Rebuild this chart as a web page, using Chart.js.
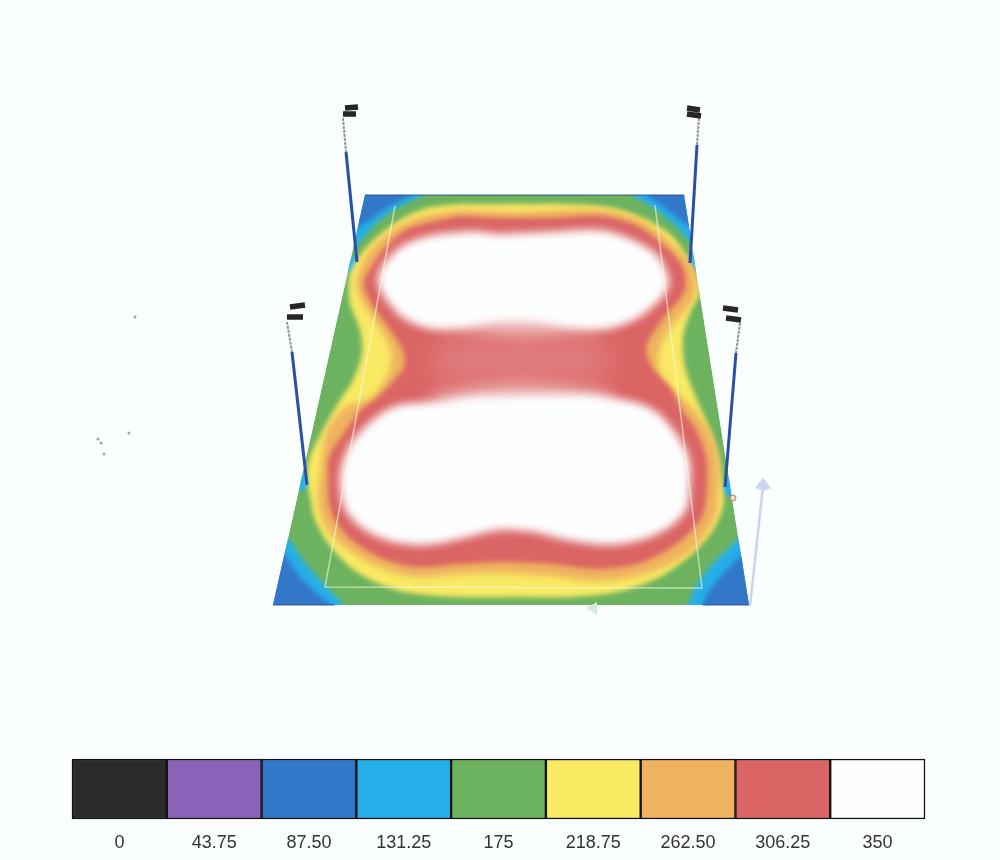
<!DOCTYPE html>
<html>
<head>
<meta charset="utf-8">
<title>Illuminance plot</title>
<script src="https://cdn.jsdelivr.net/npm/chart.js@4/dist/chart.umd.js"></script>
<style>
    html, body { margin: 0; padding: 0; background: #fafeff; }
    #wrap { position: relative; width: 1000px; height: 860px; overflow: hidden; }
    canvas { position: absolute; left: 0; }
    #plot { top: 0; }
    #scale { top: 750px; }
</style>
</head>
<body>
<div id="wrap">
    <canvas id="plot" width="1000" height="750"></canvas>
    <canvas id="scale" width="1000" height="110"></canvas>
</div>
<script>
// colour scale
const levelLabels = ['0', '43.75', '87.50', '131.25', '175', '218.75', '262.50', '306.25', '350'];
const levelColors = ['#2b2b2b', '#8a63b8', '#3377c8', '#25afea', '#6db35f', '#f9e963', '#efb25f', '#db6464', '#fdfefe'];
const levelHeights = [1, 1, 1, 1, 1, 1, 1, 1, 1];

// isolux outlines in plot units
const plate = [[365, 195], [684, 195], [749, 605], [273, 605]];
const band175 = plate;
const cornerCyanTL = [[340, 180], [428, 180], [424, 195], [398, 207], [377, 222], [358, 244], [340, 254]];
const cornerBlueTL = [[340, 180], [416, 180], [412, 195], [388, 207], [364, 224], [340, 238]];
const cornerCyanTR = [[625, 180], [632, 195], [654, 208], [675, 225], [690, 242], [710, 252], [710, 180]];
const cornerBlueTR = [[640, 180], [646, 195], [664, 207], [684, 223], [710, 238], [710, 180]];
const cornerCyanBL = [[262, 525], [290, 540], [305, 563], [323, 583], [343, 604], [345, 620], [255, 620]];
const cornerBlueBL = [[262, 545], [285, 555], [298, 575], [316, 593], [330, 604], [332, 620], [255, 620]];
const cornerCyanBR = [[760, 525], [737, 540], [713, 563], [696, 585], [688, 604], [686, 620], [770, 620]];
const cornerBlueBR = [[760, 542], [742, 555], [720, 577], [708, 592], [703, 604], [701, 620], [770, 620]];
const baseCyanA = [[344, 268], [354, 256], [359, 268], [349, 274]];
const baseCyanB = [[299, 486], [303, 470], [310, 484], [301, 492]];
const baseCyanC = [[722, 490], [729, 476], [736, 490], [730, 498]];
const baseCyanD = [[688, 266], [692, 252], [700, 264], [696, 272]];

const band218 = [
    [520, 204], [567, 204], [613, 208], [647, 220], [673, 237], [690, 263], [700, 290], [690, 313],
    [683, 337], [685, 367], [697, 400], [707, 423], [717, 450], [723, 487], [723, 507], [713, 530],
    [693, 553], [660, 577], [617, 592], [567, 597], [520, 597], [460, 597], [410, 593], [377, 583],
    [350, 567], [328, 543], [315, 520], [310, 497], [307, 477], [310, 457], [323, 430], [340, 400],
    [353, 380], [362, 353], [360, 330], [350, 303], [350, 273], [360, 255], [377, 237], [400, 220], [427, 208], [460, 204],
];
const band262 = [
    [520, 212], [560, 210], [605, 210], [642, 221], [670, 242], [692, 265], [696, 285], [692, 302],
    [675, 322], [661, 345], [658, 367], [668, 385], [684, 400], [696, 412], [709, 430], [718, 457],
    [719, 487], [715, 517], [693, 549], [652, 572], [600, 581], [550, 576], [500, 573], [460, 574],
    [417, 577], [378, 567], [347, 549], [326, 528], [318, 500], [320, 477], [326, 433], [344, 408],
    [370, 398], [385, 380], [392, 360], [388, 343], [376, 323], [363, 303], [356, 283], [363, 262],
    [377, 243], [401, 225], [427, 215], [460, 210],
];
const band306 = [
    [500, 218], [550, 218], [600, 216], [633, 224], [659, 241], [681, 264], [686, 283], [681, 297],
    [662, 320], [646, 347], [652, 367], [672, 390], [682, 410], [696, 430], [706, 457], [707, 487],
    [702, 517], [679, 542], [643, 562], [600, 569], [550, 564], [500, 562], [460, 564], [417, 567],
    [384, 559], [354, 542], [336, 522], [329, 503], [328, 477], [329, 457], [344, 433], [361, 410],
    [378, 397], [394, 380], [404, 367], [404, 353], [394, 335], [378, 313], [368, 297], [364, 283],
    [371, 267], [384, 249], [404, 231], [427, 223], [460, 216],
];
const holeTop = [
    [500, 234], [543, 232], [600, 230], [631, 239], [657, 255], [669, 280], [664, 295], [638, 318],
    [610, 328], [573, 328], [533, 322], [500, 322], [460, 328], [427, 328], [402, 317], [383, 295],
    [378, 280], [383, 265], [402, 246], [433, 235], [473, 231],
];
const holeBottom = [
    [520, 396], [560, 395], [600, 396], [638, 403], [658, 413], [677, 435], [689, 458], [690, 483],
    [687, 508], [670, 527], [641, 540], [607, 545], [567, 540], [533, 532], [500, 530], [460, 539],
    [427, 545], [393, 542], [365, 530], [346, 511], [340, 487], [341, 468], [350, 445], [369, 423],
    [395, 406], [440, 401], [480, 396],
];
const midHaze = [[450, 335], [590, 335], [615, 360], [590, 385], [450, 385], [425, 360]];
const hazeUpper = [[450, 310], [590, 310], [615, 322], [520, 334], [425, 322]];
const hazeLower = [[425, 396], [520, 386], [615, 396], [590, 410], [450, 410]];

// aiming rectangle, poles, lamp heads, arrows
const fieldLine = [[395, 206], [325, 587], [702, 588], [655, 205]];
const poleBlue = [[346, 152], [357, 262], null, [697, 145], [690, 263], null, [292, 352], [307, 485], null, [736, 353], [725, 487]];
const poleGrey = [[343, 118], [346, 152], null, [699, 118], [697, 145], null, [287, 322], [292, 352], null, [740, 323], [736, 353]];
const lampHeads = [
    [345, 108], [358, 107], null, [343, 114], [356, 114], null,
    [687, 108], [700, 110], null, [687, 114], [701, 116], null,
    [290, 307], [305, 305], null, [287, 317], [303, 317], null,
    [723, 308], [738, 310], null, [726, 318], [741, 320],
];
const plateEdge = [[365, 195], [684, 195], null, [273, 605], [335, 605], null, [703, 605], [749, 605]];
const arrowUpShaft = [[750, 606], [763, 486]];
const arrowUpHead = [[763, 478], [771, 488], [763, 491], [755, 488]];
const arrowLeftHead = [[586, 608], [597, 602], [597, 615]];
const originDot = [[733, 498]];
const scanSpecks = [[98, 439], [101, 443], [104, 454], [129, 433], [135, 317]];

const toXY = (pts) => pts.map((p) => (p ? { x: p[0], y: p[1] } : { x: NaN, y: NaN }));

function area(data, color, blur, tension) {
    return {
        data: toXY(data),
        showLine: true,
        fill: 'shape',
        backgroundColor: color,
        borderWidth: 0,
        pointRadius: 0,
        tension: tension === undefined ? 0.3 : tension,
        blur: blur,
        onPlate: true,
    };
}

function stroke(data, color, width, blur) {
    return {
        data: toXY(data),
        showLine: true,
        fill: false,
        borderColor: color,
        borderWidth: width,
        pointRadius: 0,
        spanGaps: false,
        blur: blur || 0,
    };
}

// painted bottom to top, chart.js wants the top one first
const layers = [
    area(band175, levelColors[4], 0, 0),
    area(cornerCyanTL, levelColors[3], 2.5, 0),
    area(cornerBlueTL, levelColors[2], 2.5, 0),
    area(cornerCyanTR, levelColors[3], 2.5, 0),
    area(cornerBlueTR, levelColors[2], 2.5, 0),
    area(cornerCyanBL, levelColors[3], 2.5, 0),
    area(cornerBlueBL, levelColors[2], 2.5, 0),
    area(cornerCyanBR, levelColors[3], 2.5, 0),
    area(cornerBlueBR, levelColors[2], 2.5, 0),
    area(baseCyanA, levelColors[3], 1),
    area(baseCyanB, levelColors[3], 1),
    area(baseCyanC, levelColors[3], 1),
    area(baseCyanD, levelColors[3], 1),
    area(band218, levelColors[5], 2.5),
    area(band262, levelColors[6], 3),
    area(band306, levelColors[7], 2.5),
    area(midHaze, 'rgba(255,255,255,0.14)', 12),
    area(hazeUpper, 'rgba(255,255,255,0.6)', 8),
    area(hazeLower, 'rgba(255,255,255,0.6)', 8),
    area(holeTop, levelColors[8], 4),
    area(holeBottom, levelColors[8], 4),
    stroke(fieldLine, 'rgba(246,250,225,0.6)', 1.5, 0.4),
    stroke(plateEdge, 'rgba(35,60,120,0.8)', 1, 0.3),
    Object.assign(stroke(poleGrey, '#94948a', 2, 0.3), { borderDash: [3, 1] }),
    stroke(poleBlue, '#2b4fa6', 3, 0.3),
    stroke(lampHeads, '#262626', 5.5, 0.5),
    stroke(arrowUpShaft, '#c9d6f2', 2.5, 0.3),
    Object.assign(area(arrowUpHead, '#c9d6f2', 0.5, 0), { onPlate: false }),
    Object.assign(area(arrowLeftHead, '#d9e9dd', 0.5, 0), { onPlate: false }),
    {
        data: toXY(originDot),
        showLine: false,
        pointRadius: 3,
        pointBackgroundColor: '#ead9cb',
        pointBorderColor: '#b9805f',
        pointBorderWidth: 1,
    },
    {
        data: toXY(scanSpecks),
        showLine: false,
        pointRadius: 1.5,
        pointBorderWidth: 0,
        pointBackgroundColor: 'rgba(90,90,90,0.55)',
        blur: 0.6,
    },
].reverse();

// clips the field layers to the plate and softens them, has to run before the filler
const softLayers = {
    id: 'softLayers',
    beforeDatasetDraw(chart, args) {
        const ds = chart.data.datasets[args.index];
        const ctx = chart.ctx;
        ctx.save();
        if (ds.onPlate) {
            const { x, y } = chart.scales;
            ctx.beginPath();
            plate.forEach((p, i) => {
                if (i === 0) {
                    ctx.moveTo(x.getPixelForValue(p[0]), y.getPixelForValue(p[1]));
                } else {
                    ctx.lineTo(x.getPixelForValue(p[0]), y.getPixelForValue(p[1]));
                }
            });
            ctx.closePath();
            ctx.clip();
        }
        if (ds.blur) {
            ctx.filter = `blur(${ds.blur}px)`;
        }
    },
    afterDatasetDraw(chart) {
        chart.ctx.restore();
    },
};

const filler = Chart.registry.getPlugin('filler');
Chart.unregister(filler);
Chart.register(softLayers, filler);

new Chart(document.getElementById('plot'), {
    type: 'scatter',
    data: { datasets: layers },
    options: {
        responsive: false,
        animation: false,
        events: [],
        layout: { padding: 0, autoPadding: false },
        plugins: { legend: { display: false }, tooltip: { enabled: false } },
        scales: {
            x: { type: 'linear', min: 0, max: 1000, display: false },
            y: { type: 'linear', min: 0, max: 750, reverse: true, display: false },
        },
    },
});

new Chart(document.getElementById('scale'), {
    type: 'bar',
    plugins: [],
    data: {
        labels: levelLabels,
        datasets: [{
            data: levelHeights,
            backgroundColor: levelColors,
            borderColor: '#111111',
            borderWidth: 1.5,
            borderSkipped: false,
            barPercentage: 1,
            categoryPercentage: 1,
            clip: false,
        }],
    },
    options: {
        responsive: false,
        animation: false,
        events: [],
        layout: { padding: { left: 72, right: 75, top: 9, bottom: 0 }, autoPadding: false },
        plugins: { legend: { display: false }, tooltip: { enabled: false } },
        scales: {
            x: {
                grid: { display: false },
                border: { display: false },
                afterFit(scale) {
                    scale.height = 41;
                },
                ticks: {
                    color: '#333333',
                    font: { family: '"Liberation Sans", Arial, sans-serif', size: 18 },
                    padding: 5,
                    maxRotation: 0,
                },
            },
            y: { min: 0, max: 1, display: false },
        },
    },
});
</script>
</body>
</html>
